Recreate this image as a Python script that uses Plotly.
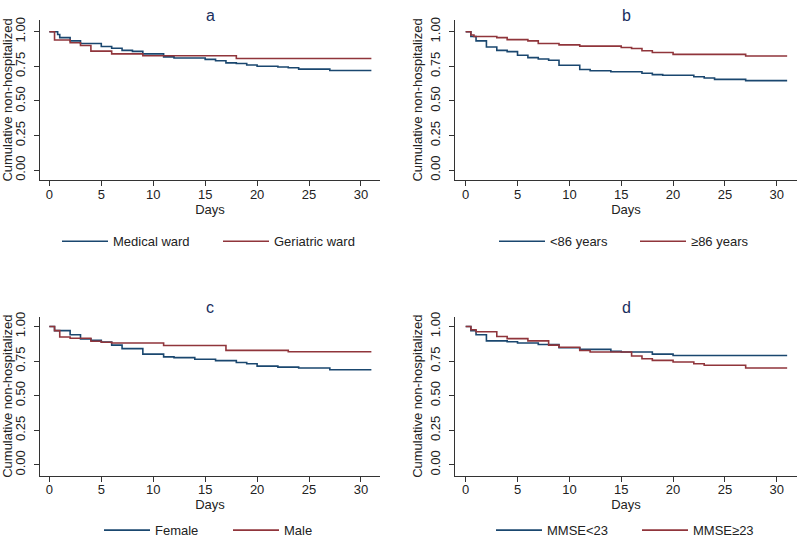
import plotly.graph_objects as go

# ---------------- data (Kaplan-Meier step curves) ----------------
# Panel a: ward
a_med_days = [0, 0.8, 1, 2, 3, 5, 6, 7, 8, 9, 11, 12, 15, 16, 17, 18, 19, 20, 22, 23, 24, 27, 31]
a_med_surv = [1.00, 0.98, 0.957, 0.934, 0.915, 0.893, 0.88, 0.865, 0.858, 0.84, 0.818, 0.81, 0.80, 0.79, 0.775, 0.77, 0.76, 0.75, 0.745, 0.74, 0.73, 0.72, 0.72]
a_ger_days = [0, 0.5, 2, 3, 4, 6, 9, 18, 31]
a_ger_surv = [1.00, 0.94, 0.92, 0.90, 0.86, 0.84, 0.826, 0.806, 0.806]

# Panel b: age
b_young_days = [0, 0.5, 1, 2, 3, 4, 5, 6, 7, 8, 9, 11, 12, 14, 17, 18, 19, 22, 23, 24, 27, 31]
b_young_surv = [1.00, 0.965, 0.934, 0.89, 0.865, 0.856, 0.83, 0.813, 0.803, 0.794, 0.758, 0.727, 0.718, 0.711, 0.70, 0.69, 0.685, 0.675, 0.666, 0.656, 0.647, 0.647]
b_old_days = [0, 0.5, 0.8, 3, 4, 6, 7, 9, 11, 15, 16, 17, 18, 20, 27, 31]
b_old_surv = [1.00, 0.976, 0.965, 0.957, 0.943, 0.934, 0.915, 0.905, 0.896, 0.886, 0.879, 0.862, 0.85, 0.836, 0.825, 0.825]

# Panel c: sex
c_fem_days = [0, 0.5, 2, 3, 4, 5, 6, 7, 9, 11, 12, 14, 16, 18, 19, 20, 22, 24, 27, 31]
c_fem_surv = [1.00, 0.97, 0.94, 0.91, 0.90, 0.888, 0.865, 0.84, 0.80, 0.78, 0.775, 0.763, 0.753, 0.74, 0.73, 0.713, 0.706, 0.70, 0.687, 0.687]
c_male_days = [0, 0.5, 1, 2, 4, 5, 6, 11, 17, 23, 31]
c_male_surv = [1.00, 0.97, 0.924, 0.915, 0.893, 0.886, 0.88, 0.862, 0.827, 0.817, 0.817]

# Panel d: MMSE
d_low_days = [0, 0.5, 1, 2, 4, 5, 7, 9, 11, 14, 15, 18, 20, 31]
d_low_surv = [1.00, 0.97, 0.94, 0.896, 0.889, 0.88, 0.87, 0.846, 0.834, 0.82, 0.815, 0.80, 0.79, 0.79]
d_high_days = [0, 0.5, 1, 3, 4, 6, 8, 9, 11, 12, 16, 17, 18, 20, 22, 23, 27, 31]
d_high_surv = [1.00, 0.976, 0.962, 0.927, 0.912, 0.896, 0.865, 0.85, 0.826, 0.815, 0.786, 0.767, 0.755, 0.743, 0.73, 0.72, 0.70, 0.70]

panel_titles = ["a", "b", "c", "d"]
legend_labels = [("Medical ward", "Geriatric ward"), ("<86 years", "≥86 years"),
                 ("Female", "Male"), ("MMSE<23", "MMSE≥23")]
x_ticks = [0, 5, 10, 15, 20, 25, 30]
y_ticks = [0, 0.25, 0.5, 0.75, 1.0]
y_ticklabels = ["0.00", "0.25", "0.50", "0.75", "1.00"]

series = [
    (a_med_days, a_med_surv, a_ger_days, a_ger_surv),
    (b_young_days, b_young_surv, b_old_days, b_old_surv),
    (c_fem_days, c_fem_surv, c_male_days, c_male_surv),
    (d_low_days, d_low_surv, d_high_days, d_high_surv),
]

# ---------------- style ----------------
BLUE = "#1a476f"
RED = "#90353b"
NAVY = "#1a2f5e"
FONT = "Liberation Sans, Arial, sans-serif"
TXT = "#222222"

W, H = 800, 546


def fx(x):
    return x / W


def fy(y):
    return 1 - y / H


# page-pixel geometry of each panel: (left, right, top, bottom)
px = [(40, 380, 15, 177), (455, 797, 15, 177), (40, 380, 315, 476), (455, 797, 315, 476)]
xr = [(-0.9, 31.83), (-1.03, 31.95), (-0.9, 31.83), (-1.03, 31.95)]
yr = [(-0.0714, 1.0857), (-0.0714, 1.0857), (-0.0786, 1.0714), (-0.0786, 1.0714)]
legend_y = [239, 239, 531, 531]
legend_x0 = [63, 500, 105, 497]
legend_entry = [100, 80, 68, 85]
title_y = [0, 0, 295, 295]

fig = go.Figure()
layout = dict(width=W, height=H, margin=dict(l=0, r=0, t=0, b=0),
              paper_bgcolor="white", plot_bgcolor="white",
              font=dict(family=FONT, size=13, color=TXT), annotations=[])

for i in range(4):
    n = "" if i == 0 else str(i + 1)
    xd, yd, xd2, yd2 = series[i]
    lname = "legend" if i == 0 else f"legend{i + 1}"
    fig.add_trace(go.Scatter(x=xd, y=yd, mode="lines", line=dict(color=BLUE, width=1.6, shape="hv"),
                             name=legend_labels[i][0], xaxis="x" + n, yaxis="y" + n, legend=lname))
    fig.add_trace(go.Scatter(x=xd2, y=yd2, mode="lines", line=dict(color=RED, width=1.6, shape="hv"),
                             name=legend_labels[i][1], xaxis="x" + n, yaxis="y" + n, legend=lname))
    l, r, t, b = px[i]
    layout["xaxis" + n] = dict(domain=[fx(l), fx(r)], range=list(xr[i]), anchor="y" + n,
                               showline=True, linecolor="#333333", linewidth=1,
                               ticks="outside", ticklen=5, tickcolor="#333333",
                               tickvals=x_ticks, showgrid=False, zeroline=False,
                               ticklabelstandoff=-3,
                               tickfont=dict(size=13, color=TXT),
                               title=dict(text="Days", font=dict(size=13, color=TXT), standoff=1))
    layout["yaxis" + n] = dict(domain=[fy(b), fy(t)], range=list(yr[i]), anchor="x" + n,
                               showline=True, linecolor="#333333", linewidth=1,
                               ticks="outside", ticklen=5, tickcolor="#333333",
                               tickvals=y_ticks, ticktext=y_ticklabels, tickangle=-90,
                               showgrid=False, zeroline=False, ticklabelstandoff=4,
                               tickfont=dict(size=13, color=TXT),
                               title=dict(text="Cumulative non-hospitalized", font=dict(size=13, color=TXT), standoff=2))
    layout[lname] = dict(orientation="h", x=fx(legend_x0[i] - 6), xanchor="left",
                         y=fy(legend_y[i]), yanchor="middle",
                         font=dict(size=13, color=TXT), bgcolor="rgba(0,0,0,0)",
                         itemwidth=46, entrywidth=legend_entry[i])
    layout["annotations"].append(dict(text=panel_titles[i], x=fx((l + r) / 2), y=fy(title_y[i]),
                                      xref="paper", yref="paper", showarrow=False,
                                      xanchor="center", yanchor="top",
                                      font=dict(size=16, color=NAVY)))

fig.update_layout(**layout)
fig.write_html("out.html", config={"displayModeBar": False},
               post_script="document.body.style.margin='0';document.body.style.overflow='hidden';")
